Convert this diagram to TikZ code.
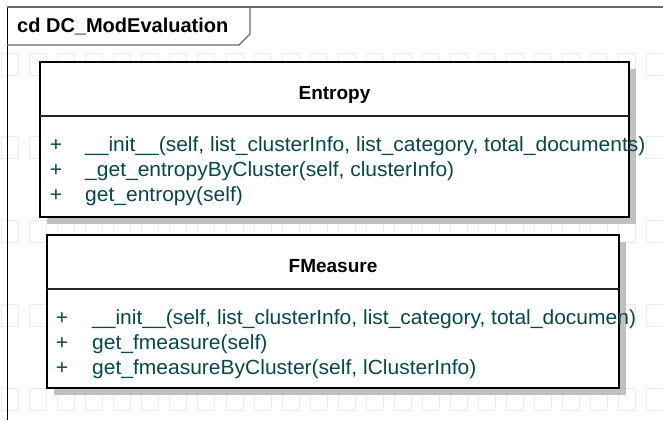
\documentclass[tikz,border=0pt]{standalone}
\usepackage{fontspec}
\setmainfont{Liberation Sans}[FakeStretch=1.025]
\newfontfamily\titlefont{Liberation Sans}
\usetikzlibrary{shadows}
\definecolor{mtext}{HTML}{084848}
\definecolor{shadowc}{HTML}{C0C0C0}
\definecolor{gridc}{HTML}{ECECEC}
\definecolor{framec}{HTML}{686868}
\tikzset{
  gridrect/.style={draw=gridc, line width=0.8pt},
  framel/.style={draw=black, line width=1pt},
  tabl/.style={draw=framec, line width=1.2pt},
  classbox/.style={draw=black, line width=1.8pt, fill=white, inner sep=0pt, outer sep=0pt,
    general shadow={fill=shadowc, shadow xshift=7pt, shadow yshift=-7pt}},
  divider/.style={draw=black!85, line width=1.5pt},
  ctitle/.style={inner sep=0pt, font=\titlefont\bfseries\fontsize{19}{23}\selectfont, text=black},
  ftitle/.style={inner sep=0pt, font=\titlefont\bfseries\fontsize{20}{24}\selectfont, text=black},
  vis/.style={inner sep=0pt, anchor=base, font=\fontsize{20.5}{24}\selectfont, text=mtext},
  meth/.style={inner sep=0pt, anchor=base west, font=\fontsize{20.5}{24}\selectfont, text=mtext}
}
\begin{document}
\begin{tikzpicture}[x=1pt,y=-1pt]
\useasboundingbox (0,0) rectangle (663,420);
\fill[white] (0,0) rectangle (663,420);
% background grid
\foreach \r in {0,...,4}{
  \foreach \k in {0,...,23}{
    \draw[gridrect] ({1.5+28.05*\k},{53+83.75*\r}) rectangle ++(17,22);
  }
}
% frame
\draw[framel] (7,420) -- (7,7);
\draw[tabl] (7,7) -- (663,7);
\draw[tabl] (7,45) -- (239,45) -- (250,34) -- (250,7);
\node[ftitle, anchor=base west] (lbl) at (17,33) {cd DC\_ModEvaluation};
% Entropy
\node[classbox, minimum width=589pt, minimum height=155pt] (ent) at (334.5,139.5) {};
\draw[divider] ([yshift=-54pt]ent.north west) -- ([yshift=-54pt]ent.north east);
\node[ctitle, anchor=base] (entT) at ([yshift=-37pt]ent.north) {Entropy};
\node[vis] (entP1) at ([xshift=16pt,yshift=-89pt]ent.north west) {+};
\node[meth] (entM1) at ([xshift=45pt,yshift=-89pt]ent.north west) {\_\_init\_\_(self, list\_clusterInfo, list\_category, total\_documents)};
\node[vis] (entP2) at ([xshift=16pt,yshift=-114pt]ent.north west) {+};
\node[meth] (entM2) at ([xshift=45pt,yshift=-114pt]ent.north west) {\_get\_entropyByCluster(self, clusterInfo)};
\node[vis] (entP3) at ([xshift=16pt,yshift=-139pt]ent.north west) {+};
\node[meth] (entM3) at ([xshift=45pt,yshift=-139pt]ent.north west) {get\_entropy(self)};
% FMeasure
\node[classbox, minimum width=572pt, minimum height=153pt] (fm) at (333,311.5) {};
\draw[divider] ([yshift=-54pt]fm.north west) -- ([yshift=-54pt]fm.north east);
\node[ctitle, anchor=base] (fmT) at ([yshift=-37pt]fm.north) {FMeasure};
\node[vis] (fmP1) at ([xshift=15pt,yshift=-89pt]fm.north west) {+};
\node[meth] (fmM1) at ([xshift=45pt,yshift=-89pt]fm.north west) {\_\_init\_\_(self, list\_clusterInfo, list\_category, total\_documen)};
\node[vis] (fmP2) at ([xshift=15pt,yshift=-114pt]fm.north west) {+};
\node[meth] (fmM2) at ([xshift=45pt,yshift=-114pt]fm.north west) {get\_fmeasure(self)};
\node[vis] (fmP3) at ([xshift=15pt,yshift=-139pt]fm.north west) {+};
\node[meth] (fmM3) at ([xshift=45pt,yshift=-139pt]fm.north west) {get\_fmeasureByCluster(self, lClusterInfo)};
\end{tikzpicture}
\end{document}
